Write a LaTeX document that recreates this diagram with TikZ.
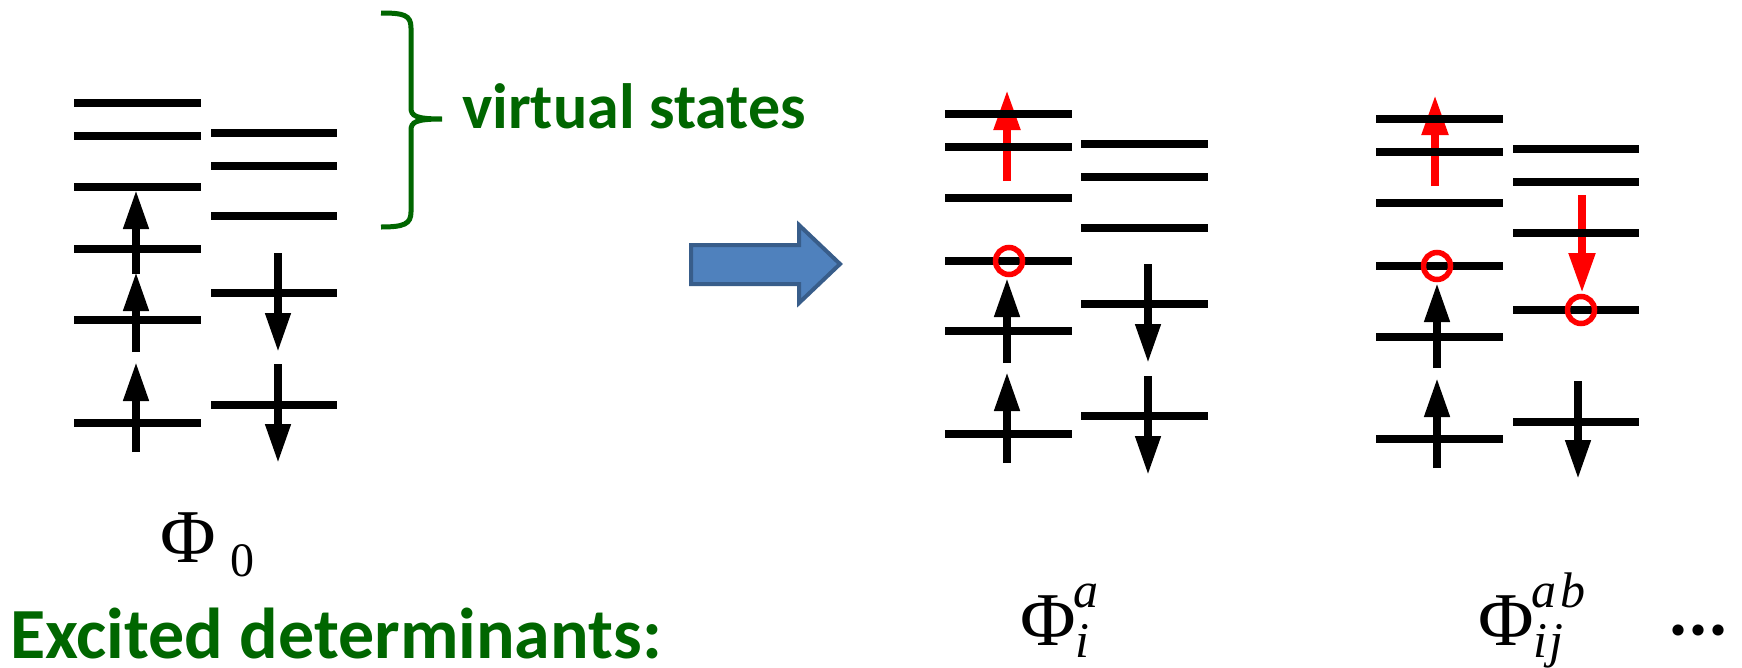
\documentclass[tikz,border=0pt]{standalone}
\usepackage{fontspec}
\setmainfont{Liberation Serif}
\newfontfamily\calib{Carlito}
\usetikzlibrary{arrows.meta}
\definecolor{dgreen}{RGB}{0,102,0}
\definecolor{arrfill}{HTML}{4F81BD}
\definecolor{arrdraw}{HTML}{385D8A}
\begin{document}
\begin{tikzpicture}[x=1pt,y=-1pt,
  lvl/.style={line width=7.5pt},
  spinarrow/.style={line width=7.5pt,-{Triangle[length=39pt,width=24pt]}},
  redspin/.style={line width=8pt,red,-{Triangle[length=40pt,width=25pt]}},
  hole/.style={red,line width=5.5pt},
  lab/.style={inner sep=0pt,anchor=base west},
  bigphi/.style={lab,font=\fontsize{76}{80}\selectfont},
  smallidx/.style={lab,font=\fontsize{50}{54}\selectfont\itshape},
  greentext/.style={lab,text=dgreen,font=\calib\bfseries\fontsize{#1}{#1}\selectfont}]
\useasboundingbox (0,0) rectangle (1742,667);

% ---------- group 1 : Phi_0 ----------
\foreach \y in {103,136,187,249,320,423} \draw[lvl] (74,\y) -- (201,\y);
\foreach \y in {133,166,216,293,405} \draw[lvl] (211,\y) -- (337,\y);
\draw[spinarrow] (136,452) -- (136,362);
\draw[spinarrow] (136,352) -- (136,272);
\draw[spinarrow] (136,274) -- (136,190);
\draw[spinarrow] (278,253) -- (278,352);
\draw[spinarrow] (278,364) -- (278,463);

% brace + label
\draw[dgreen,line width=5pt] (381,13) .. controls (404,13) and (411,15) .. (411,28)
  -- (411,108) .. controls (411,116) and (416,119) .. (442,119)
  .. controls (416,119) and (411,122) .. (411,130)
  -- (411,212) .. controls (411,224) and (404,227) .. (381,227);
\node[greentext=64] (virt) at (462,128) {virtual states};

% big blue arrow
\draw[fill=arrfill,draw=arrdraw,line width=4pt,line join=miter]
  (691,245) -- (799,245) -- (799,225) -- (840,264) -- (799,303) -- (799,284) -- (691,284) -- cycle;

% ---------- group 2 : single excitation ----------
\draw[redspin] (1007,181) -- (1007,90);
\foreach \y in {114,147,198,261,331,434} \draw[lvl] (945,\y) -- (1072,\y);
\foreach \y in {144,177,228,304,416} \draw[lvl] (1081,\y) -- (1208,\y);
\draw[spinarrow] (1007,363) -- (1007,278);
\draw[spinarrow] (1007,463) -- (1007,372);
\draw[spinarrow] (1148,264) -- (1148,363);
\draw[spinarrow] (1148,376) -- (1148,475);
\draw[hole] (1009,261) circle (13.5);

% ---------- group 3 : double excitation ----------
\draw[redspin] (1435,186) -- (1435,95);
\draw[redspin] (1582,195) -- (1582,293);
\foreach \y in {119,152,203,266,337,439} \draw[lvl] (1376,\y) -- (1503,\y);
\foreach \y in {149,182,233,310,422} \draw[lvl] (1513,\y) -- (1639,\y);
\draw[spinarrow] (1437,368) -- (1437,283);
\draw[spinarrow] (1437,468) -- (1437,378);
\draw[spinarrow] (1578,381) -- (1578,479);
\draw[hole] (1437,266) circle (13.5);
\draw[hole] (1581,310) circle (13.5);

% ---------- labels ----------
\node[bigphi] (phi0) at (160,562) {Φ};
\node[lab,font=\fontsize{48}{50}\selectfont] (phi0sub) at (230,576) {0};

\node[bigphi] (phia) at (1020,645) {Φ};
\node[smallidx] (phiasup) at (1073,607) {a};
\node[smallidx] (phiasub) at (1075,657) {i};

\node[bigphi] (phiab) at (1478,645) {Φ};
\node[smallidx] (phiabsup) at (1531,607) {a\kern4pt b};
\node[smallidx] (phiabsub) at (1533,657) {i\kern2pt j};

\node[lab,font=\calib\bfseries\fontsize{75}{75}\selectfont] (dots) at (1668,635) {...};

\node[greentext=72] (exc) at (10,658) {Excited determinants:};
\end{tikzpicture}
\end{document}
